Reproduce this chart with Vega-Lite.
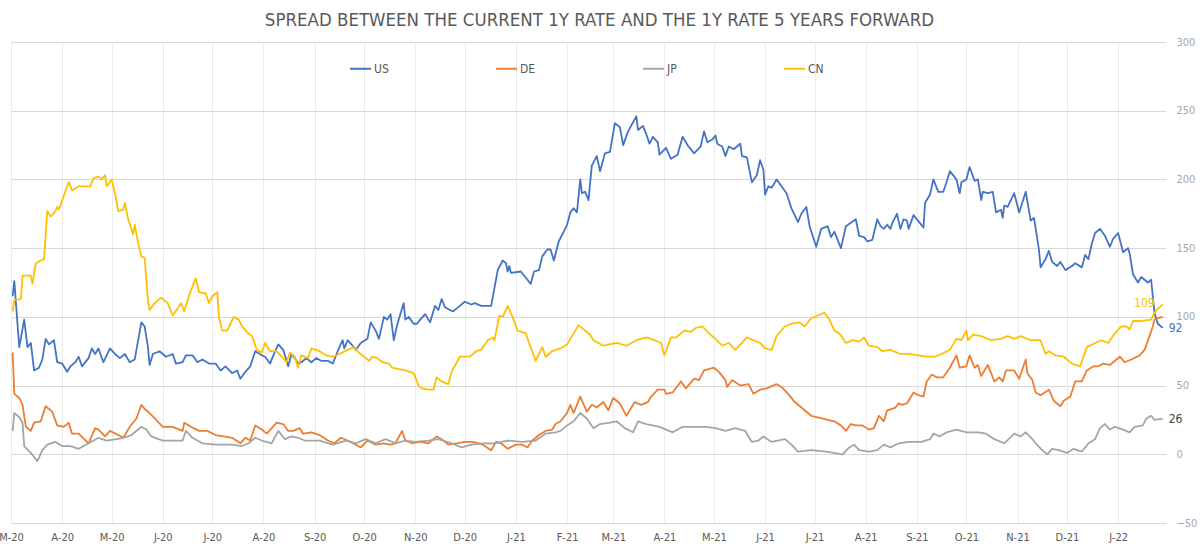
{
  "$schema": "https://vega.github.io/schema/vega-lite/v6.json",
  "width": 1155,
  "height": 481,
  "autosize": {"type": "none"},
  "padding": {"left": 11, "top": 42, "right": 34, "bottom": 26},
  "title": {
    "text": "SPREAD BETWEEN THE CURRENT 1Y RATE AND THE 1Y RATE 5 YEARS FORWARD",
    "fontSize": 18.5,
    "fontWeight": "normal",
    "color": "#595959",
    "anchor": "middle",
    "frame": "group",
    "offset": 7,
    "dx": 11
  },
  "data": {
    "values": [
      {"d":"2020-03-02","s":"US","v":115},{"d":"2020-03-03","s":"US","v":126},{"d":"2020-03-04","s":"US","v":110},{"d":"2020-03-06","s":"US","v":78},{"d":"2020-03-09","s":"US","v":98},{"d":"2020-03-11","s":"US","v":78},{"d":"2020-03-13","s":"US","v":81},{"d":"2020-03-15","s":"US","v":61},{"d":"2020-03-18","s":"US","v":63},{"d":"2020-03-20","s":"US","v":69},{"d":"2020-03-22","s":"US","v":84},{"d":"2020-03-24","s":"US","v":80},{"d":"2020-03-27","s":"US","v":83},{"d":"2020-03-29","s":"US","v":67},{"d":"2020-04-01","s":"US","v":66},{"d":"2020-04-04","s":"US","v":60},{"d":"2020-04-06","s":"US","v":64},{"d":"2020-04-09","s":"US","v":67},{"d":"2020-04-11","s":"US","v":71},{"d":"2020-04-13","s":"US","v":64},{"d":"2020-04-17","s":"US","v":70},{"d":"2020-04-19","s":"US","v":77},{"d":"2020-04-21","s":"US","v":73},{"d":"2020-04-23","s":"US","v":77},{"d":"2020-04-26","s":"US","v":67},{"d":"2020-04-30","s":"US","v":77},{"d":"2020-05-03","s":"US","v":73},{"d":"2020-05-06","s":"US","v":70},{"d":"2020-05-09","s":"US","v":73},{"d":"2020-05-12","s":"US","v":67},{"d":"2020-05-15","s":"US","v":69},{"d":"2020-05-19","s":"US","v":96},{"d":"2020-05-21","s":"US","v":93},{"d":"2020-05-23","s":"US","v":78},{"d":"2020-05-24","s":"US","v":65},{"d":"2020-05-26","s":"US","v":73},{"d":"2020-05-30","s":"US","v":75},{"d":"2020-06-03","s":"US","v":71},{"d":"2020-06-07","s":"US","v":73},{"d":"2020-06-09","s":"US","v":66},{"d":"2020-06-13","s":"US","v":67},{"d":"2020-06-15","s":"US","v":72},{"d":"2020-06-19","s":"US","v":72},{"d":"2020-06-22","s":"US","v":67},{"d":"2020-06-25","s":"US","v":69},{"d":"2020-06-29","s":"US","v":66},{"d":"2020-07-03","s":"US","v":66},{"d":"2020-07-06","s":"US","v":61},{"d":"2020-07-09","s":"US","v":64},{"d":"2020-07-13","s":"US","v":59},{"d":"2020-07-16","s":"US","v":61},{"d":"2020-07-18","s":"US","v":55},{"d":"2020-07-21","s":"US","v":60},{"d":"2020-07-24","s":"US","v":64},{"d":"2020-07-27","s":"US","v":75},{"d":"2020-07-31","s":"US","v":72},{"d":"2020-08-02","s":"US","v":71},{"d":"2020-08-05","s":"US","v":66},{"d":"2020-08-07","s":"US","v":72},{"d":"2020-08-10","s":"US","v":80},{"d":"2020-08-13","s":"US","v":76},{"d":"2020-08-16","s":"US","v":64},{"d":"2020-08-18","s":"US","v":73},{"d":"2020-08-20","s":"US","v":70},{"d":"2020-08-22","s":"US","v":66},{"d":"2020-08-24","s":"US","v":67},{"d":"2020-08-27","s":"US","v":70},{"d":"2020-08-30","s":"US","v":67},{"d":"2020-09-02","s":"US","v":70},{"d":"2020-09-05","s":"US","v":68},{"d":"2020-09-09","s":"US","v":68},{"d":"2020-09-12","s":"US","v":66},{"d":"2020-09-15","s":"US","v":75},{"d":"2020-09-18","s":"US","v":83},{"d":"2020-09-19","s":"US","v":77},{"d":"2020-09-21","s":"US","v":83},{"d":"2020-09-24","s":"US","v":79},{"d":"2020-09-26","s":"US","v":76},{"d":"2020-09-29","s":"US","v":81},{"d":"2020-10-03","s":"US","v":84},{"d":"2020-10-05","s":"US","v":96},{"d":"2020-10-08","s":"US","v":90},{"d":"2020-10-10","s":"US","v":84},{"d":"2020-10-13","s":"US","v":100},{"d":"2020-10-15","s":"US","v":98},{"d":"2020-10-17","s":"US","v":102},{"d":"2020-10-19","s":"US","v":83},{"d":"2020-10-21","s":"US","v":94},{"d":"2020-10-25","s":"US","v":110},{"d":"2020-10-26","s":"US","v":98},{"d":"2020-10-28","s":"US","v":100},{"d":"2020-10-31","s":"US","v":95},{"d":"2020-11-02","s":"US","v":95},{"d":"2020-11-04","s":"US","v":98},{"d":"2020-11-07","s":"US","v":102},{"d":"2020-11-10","s":"US","v":96},{"d":"2020-11-13","s":"US","v":108},{"d":"2020-11-15","s":"US","v":105},{"d":"2020-11-17","s":"US","v":113},{"d":"2020-11-19","s":"US","v":107},{"d":"2020-11-22","s":"US","v":105},{"d":"2020-11-24","s":"US","v":104},{"d":"2020-11-28","s":"US","v":108},{"d":"2020-12-01","s":"US","v":111},{"d":"2020-12-05","s":"US","v":109},{"d":"2020-12-07","s":"US","v":110},{"d":"2020-12-11","s":"US","v":108},{"d":"2020-12-17","s":"US","v":108},{"d":"2020-12-21","s":"US","v":134},{"d":"2020-12-24","s":"US","v":141},{"d":"2020-12-26","s":"US","v":139},{"d":"2020-12-27","s":"US","v":133},{"d":"2020-12-28","s":"US","v":137},{"d":"2020-12-29","s":"US","v":132},{"d":"2021-01-04","s":"US","v":133},{"d":"2021-01-08","s":"US","v":127},{"d":"2021-01-10","s":"US","v":124},{"d":"2021-01-12","s":"US","v":133},{"d":"2021-01-15","s":"US","v":134},{"d":"2021-01-17","s":"US","v":144},{"d":"2021-01-20","s":"US","v":149},{"d":"2021-01-22","s":"US","v":149},{"d":"2021-01-24","s":"US","v":141},{"d":"2021-01-27","s":"US","v":155},{"d":"2021-01-30","s":"US","v":162},{"d":"2021-02-01","s":"US","v":167},{"d":"2021-02-03","s":"US","v":176},{"d":"2021-02-05","s":"US","v":179},{"d":"2021-02-07","s":"US","v":176},{"d":"2021-02-09","s":"US","v":200},{"d":"2021-02-10","s":"US","v":190},{"d":"2021-02-12","s":"US","v":191},{"d":"2021-02-14","s":"US","v":185},{"d":"2021-02-16","s":"US","v":210},{"d":"2021-02-19","s":"US","v":217},{"d":"2021-02-21","s":"US","v":206},{"d":"2021-02-24","s":"US","v":219},{"d":"2021-02-27","s":"US","v":220},{"d":"2021-03-02","s":"US","v":241},{"d":"2021-03-05","s":"US","v":238},{"d":"2021-03-07","s":"US","v":225},{"d":"2021-03-10","s":"US","v":235},{"d":"2021-03-15","s":"US","v":246},{"d":"2021-03-16","s":"US","v":236},{"d":"2021-03-19","s":"US","v":239},{"d":"2021-03-21","s":"US","v":233},{"d":"2021-03-23","s":"US","v":226},{"d":"2021-03-25","s":"US","v":231},{"d":"2021-03-28","s":"US","v":227},{"d":"2021-03-29","s":"US","v":218},{"d":"2021-04-02","s":"US","v":223},{"d":"2021-04-05","s":"US","v":215},{"d":"2021-04-09","s":"US","v":218},{"d":"2021-04-12","s":"US","v":231},{"d":"2021-04-15","s":"US","v":225},{"d":"2021-04-19","s":"US","v":219},{"d":"2021-04-23","s":"US","v":224},{"d":"2021-04-25","s":"US","v":235},{"d":"2021-04-27","s":"US","v":227},{"d":"2021-04-30","s":"US","v":229},{"d":"2021-05-02","s":"US","v":232},{"d":"2021-05-03","s":"US","v":226},{"d":"2021-05-06","s":"US","v":224},{"d":"2021-05-08","s":"US","v":217},{"d":"2021-05-10","s":"US","v":224},{"d":"2021-05-13","s":"US","v":222},{"d":"2021-05-17","s":"US","v":226},{"d":"2021-05-18","s":"US","v":217},{"d":"2021-05-21","s":"US","v":216},{"d":"2021-05-24","s":"US","v":198},{"d":"2021-05-27","s":"US","v":203},{"d":"2021-05-29","s":"US","v":214},{"d":"2021-05-31","s":"US","v":207},{"d":"2021-06-01","s":"US","v":189},{"d":"2021-06-03","s":"US","v":195},{"d":"2021-06-05","s":"US","v":194},{"d":"2021-06-08","s":"US","v":200},{"d":"2021-06-11","s":"US","v":195},{"d":"2021-06-14","s":"US","v":190},{"d":"2021-06-17","s":"US","v":179},{"d":"2021-06-21","s":"US","v":169},{"d":"2021-06-23","s":"US","v":175},{"d":"2021-06-26","s":"US","v":180},{"d":"2021-06-28","s":"US","v":166},{"d":"2021-07-02","s":"US","v":151},{"d":"2021-07-05","s":"US","v":164},{"d":"2021-07-09","s":"US","v":166},{"d":"2021-07-11","s":"US","v":158},{"d":"2021-07-13","s":"US","v":162},{"d":"2021-07-17","s":"US","v":150},{"d":"2021-07-20","s":"US","v":166},{"d":"2021-07-26","s":"US","v":171},{"d":"2021-07-28","s":"US","v":159},{"d":"2021-07-31","s":"US","v":158},{"d":"2021-08-02","s":"US","v":155},{"d":"2021-08-05","s":"US","v":156},{"d":"2021-08-08","s":"US","v":171},{"d":"2021-08-10","s":"US","v":166},{"d":"2021-08-12","s":"US","v":164},{"d":"2021-08-14","s":"US","v":167},{"d":"2021-08-16","s":"US","v":164},{"d":"2021-08-17","s":"US","v":168},{"d":"2021-08-20","s":"US","v":175},{"d":"2021-08-22","s":"US","v":164},{"d":"2021-08-24","s":"US","v":171},{"d":"2021-08-26","s":"US","v":170},{"d":"2021-08-27","s":"US","v":164},{"d":"2021-08-30","s":"US","v":174},{"d":"2021-09-03","s":"US","v":168},{"d":"2021-09-05","s":"US","v":165},{"d":"2021-09-06","s":"US","v":183},{"d":"2021-09-09","s":"US","v":189},{"d":"2021-09-11","s":"US","v":200},{"d":"2021-09-14","s":"US","v":191},{"d":"2021-09-17","s":"US","v":191},{"d":"2021-09-19","s":"US","v":198},{"d":"2021-09-21","s":"US","v":206},{"d":"2021-09-25","s":"US","v":200},{"d":"2021-09-27","s":"US","v":190},{"d":"2021-09-28","s":"US","v":198},{"d":"2021-10-01","s":"US","v":200},{"d":"2021-10-03","s":"US","v":209},{"d":"2021-10-06","s":"US","v":199},{"d":"2021-10-08","s":"US","v":200},{"d":"2021-10-10","s":"US","v":185},{"d":"2021-10-11","s":"US","v":191},{"d":"2021-10-14","s":"US","v":190},{"d":"2021-10-17","s":"US","v":191},{"d":"2021-10-19","s":"US","v":176},{"d":"2021-10-22","s":"US","v":178},{"d":"2021-10-23","s":"US","v":172},{"d":"2021-10-24","s":"US","v":181},{"d":"2021-10-26","s":"US","v":180},{"d":"2021-10-30","s":"US","v":190},{"d":"2021-11-02","s":"US","v":176},{"d":"2021-11-06","s":"US","v":191},{"d":"2021-11-09","s":"US","v":170},{"d":"2021-11-11","s":"US","v":172},{"d":"2021-11-14","s":"US","v":149},{"d":"2021-11-15","s":"US","v":136},{"d":"2021-11-18","s":"US","v":142},{"d":"2021-11-20","s":"US","v":148},{"d":"2021-11-22","s":"US","v":140},{"d":"2021-11-25","s":"US","v":137},{"d":"2021-11-27","s":"US","v":140},{"d":"2021-11-30","s":"US","v":134},{"d":"2021-12-04","s":"US","v":137},{"d":"2021-12-06","s":"US","v":139},{"d":"2021-12-10","s":"US","v":136},{"d":"2021-12-12","s":"US","v":145},{"d":"2021-12-14","s":"US","v":142},{"d":"2021-12-16","s":"US","v":153},{"d":"2021-12-18","s":"US","v":161},{"d":"2021-12-21","s":"US","v":164},{"d":"2021-12-24","s":"US","v":159},{"d":"2021-12-27","s":"US","v":151},{"d":"2021-12-29","s":"US","v":157},{"d":"2022-01-01","s":"US","v":161},{"d":"2022-01-04","s":"US","v":147},{"d":"2022-01-07","s":"US","v":150},{"d":"2022-01-08","s":"US","v":146},{"d":"2022-01-10","s":"US","v":131},{"d":"2022-01-13","s":"US","v":125},{"d":"2022-01-15","s":"US","v":129},{"d":"2022-01-17","s":"US","v":127},{"d":"2022-01-19","s":"US","v":125},{"d":"2022-01-21","s":"US","v":127},{"d":"2022-01-23","s":"US","v":103},{"d":"2022-01-25","s":"US","v":95},{"d":"2022-01-28","s":"US","v":92},

      {"d":"2020-03-02","s":"DE","v":74},{"d":"2020-03-03","s":"DE","v":44},{"d":"2020-03-06","s":"DE","v":41},{"d":"2020-03-08","s":"DE","v":36},{"d":"2020-03-10","s":"DE","v":20},{"d":"2020-03-13","s":"DE","v":17},{"d":"2020-03-15","s":"DE","v":23},{"d":"2020-03-19","s":"DE","v":24},{"d":"2020-03-22","s":"DE","v":35},{"d":"2020-03-26","s":"DE","v":31},{"d":"2020-03-29","s":"DE","v":21},{"d":"2020-04-02","s":"DE","v":20},{"d":"2020-04-05","s":"DE","v":23},{"d":"2020-04-07","s":"DE","v":15},{"d":"2020-04-11","s":"DE","v":15},{"d":"2020-04-17","s":"DE","v":8},{"d":"2020-04-21","s":"DE","v":19},{"d":"2020-04-23","s":"DE","v":18},{"d":"2020-04-27","s":"DE","v":13},{"d":"2020-04-30","s":"DE","v":17},{"d":"2020-05-05","s":"DE","v":14},{"d":"2020-05-08","s":"DE","v":12},{"d":"2020-05-12","s":"DE","v":20},{"d":"2020-05-16","s":"DE","v":26},{"d":"2020-05-19","s":"DE","v":36},{"d":"2020-05-21","s":"DE","v":33},{"d":"2020-05-24","s":"DE","v":30},{"d":"2020-05-28","s":"DE","v":25},{"d":"2020-06-01","s":"DE","v":20},{"d":"2020-06-07","s":"DE","v":20},{"d":"2020-06-13","s":"DE","v":17},{"d":"2020-06-14","s":"DE","v":23},{"d":"2020-06-18","s":"DE","v":20},{"d":"2020-06-23","s":"DE","v":17},{"d":"2020-06-28","s":"DE","v":17},{"d":"2020-07-03","s":"DE","v":14},{"d":"2020-07-08","s":"DE","v":13},{"d":"2020-07-13","s":"DE","v":12},{"d":"2020-07-18","s":"DE","v":8},{"d":"2020-07-21","s":"DE","v":12},{"d":"2020-07-24","s":"DE","v":10},{"d":"2020-07-27","s":"DE","v":21},{"d":"2020-07-31","s":"DE","v":18},{"d":"2020-08-03","s":"DE","v":15},{"d":"2020-08-09","s":"DE","v":23},{"d":"2020-08-13","s":"DE","v":22},{"d":"2020-08-16","s":"DE","v":17},{"d":"2020-08-19","s":"DE","v":17},{"d":"2020-08-23","s":"DE","v":19},{"d":"2020-08-25","s":"DE","v":15},{"d":"2020-08-30","s":"DE","v":16},{"d":"2020-09-04","s":"DE","v":14},{"d":"2020-09-09","s":"DE","v":10},{"d":"2020-09-13","s":"DE","v":8},{"d":"2020-09-17","s":"DE","v":12},{"d":"2020-09-21","s":"DE","v":10},{"d":"2020-09-26","s":"DE","v":7},{"d":"2020-09-29","s":"DE","v":5},{"d":"2020-10-03","s":"DE","v":10},{"d":"2020-10-08","s":"DE","v":7},{"d":"2020-10-13","s":"DE","v":8},{"d":"2020-10-17","s":"DE","v":7},{"d":"2020-10-20","s":"DE","v":8},{"d":"2020-10-24","s":"DE","v":17},{"d":"2020-10-26","s":"DE","v":10},{"d":"2020-10-30","s":"DE","v":8},{"d":"2020-11-04","s":"DE","v":9},{"d":"2020-11-09","s":"DE","v":8},{"d":"2020-11-14","s":"DE","v":13},{"d":"2020-11-17","s":"DE","v":11},{"d":"2020-11-21","s":"DE","v":7},{"d":"2020-11-26","s":"DE","v":8},{"d":"2020-12-01","s":"DE","v":9},{"d":"2020-12-06","s":"DE","v":9},{"d":"2020-12-12","s":"DE","v":7},{"d":"2020-12-17","s":"DE","v":3},{"d":"2020-12-20","s":"DE","v":9},{"d":"2020-12-23","s":"DE","v":8},{"d":"2020-12-27","s":"DE","v":4},{"d":"2021-01-01","s":"DE","v":7},{"d":"2021-01-05","s":"DE","v":7},{"d":"2021-01-08","s":"DE","v":5},{"d":"2021-01-11","s":"DE","v":10},{"d":"2021-01-15","s":"DE","v":14},{"d":"2021-01-19","s":"DE","v":17},{"d":"2021-01-23","s":"DE","v":18},{"d":"2021-01-25","s":"DE","v":22},{"d":"2021-01-28","s":"DE","v":24},{"d":"2021-02-01","s":"DE","v":30},{"d":"2021-02-03","s":"DE","v":36},{"d":"2021-02-05","s":"DE","v":30},{"d":"2021-02-09","s":"DE","v":42},{"d":"2021-02-13","s":"DE","v":31},{"d":"2021-02-16","s":"DE","v":36},{"d":"2021-02-19","s":"DE","v":34},{"d":"2021-02-23","s":"DE","v":38},{"d":"2021-02-26","s":"DE","v":32},{"d":"2021-03-01","s":"DE","v":41},{"d":"2021-03-05","s":"DE","v":37},{"d":"2021-03-09","s":"DE","v":28},{"d":"2021-03-14","s":"DE","v":38},{"d":"2021-03-18","s":"DE","v":36},{"d":"2021-03-22","s":"DE","v":38},{"d":"2021-03-24","s":"DE","v":42},{"d":"2021-03-28","s":"DE","v":47},{"d":"2021-04-01","s":"DE","v":47},{"d":"2021-04-02","s":"DE","v":44},{"d":"2021-04-06","s":"DE","v":45},{"d":"2021-04-11","s":"DE","v":53},{"d":"2021-04-14","s":"DE","v":48},{"d":"2021-04-19","s":"DE","v":55},{"d":"2021-04-22","s":"DE","v":54},{"d":"2021-04-25","s":"DE","v":61},{"d":"2021-05-01","s":"DE","v":63},{"d":"2021-05-04","s":"DE","v":60},{"d":"2021-05-08","s":"DE","v":54},{"d":"2021-05-09","s":"DE","v":49},{"d":"2021-05-12","s":"DE","v":54},{"d":"2021-05-17","s":"DE","v":50},{"d":"2021-05-22","s":"DE","v":51},{"d":"2021-05-25","s":"DE","v":44},{"d":"2021-05-29","s":"DE","v":47},{"d":"2021-06-02","s":"DE","v":48},{"d":"2021-06-08","s":"DE","v":51},{"d":"2021-06-11","s":"DE","v":49},{"d":"2021-06-15","s":"DE","v":44},{"d":"2021-06-19","s":"DE","v":38},{"d":"2021-06-23","s":"DE","v":34},{"d":"2021-06-29","s":"DE","v":28},{"d":"2021-07-06","s":"DE","v":26},{"d":"2021-07-09","s":"DE","v":25},{"d":"2021-07-13","s":"DE","v":24},{"d":"2021-07-17","s":"DE","v":21},{"d":"2021-07-20","s":"DE","v":17},{"d":"2021-07-23","s":"DE","v":22},{"d":"2021-07-26","s":"DE","v":21},{"d":"2021-07-30","s":"DE","v":21},{"d":"2021-08-03","s":"DE","v":18},{"d":"2021-08-06","s":"DE","v":19},{"d":"2021-08-09","s":"DE","v":28},{"d":"2021-08-12","s":"DE","v":24},{"d":"2021-08-14","s":"DE","v":32},{"d":"2021-08-17","s":"DE","v":33},{"d":"2021-08-19","s":"DE","v":34},{"d":"2021-08-21","s":"DE","v":37},{"d":"2021-08-23","s":"DE","v":36},{"d":"2021-08-26","s":"DE","v":37},{"d":"2021-08-30","s":"DE","v":45},{"d":"2021-09-02","s":"DE","v":43},{"d":"2021-09-05","s":"DE","v":42},{"d":"2021-09-07","s":"DE","v":53},{"d":"2021-09-10","s":"DE","v":58},{"d":"2021-09-13","s":"DE","v":56},{"d":"2021-09-17","s":"DE","v":56},{"d":"2021-09-21","s":"DE","v":63},{"d":"2021-09-25","s":"DE","v":72},{"d":"2021-09-27","s":"DE","v":63},{"d":"2021-10-01","s":"DE","v":64},{"d":"2021-10-03","s":"DE","v":72},{"d":"2021-10-06","s":"DE","v":63},{"d":"2021-10-08","s":"DE","v":65},{"d":"2021-10-10","s":"DE","v":57},{"d":"2021-10-14","s":"DE","v":65},{"d":"2021-10-18","s":"DE","v":53},{"d":"2021-10-21","s":"DE","v":56},{"d":"2021-10-23","s":"DE","v":53},{"d":"2021-10-25","s":"DE","v":61},{"d":"2021-10-30","s":"DE","v":61},{"d":"2021-11-02","s":"DE","v":55},{"d":"2021-11-06","s":"DE","v":69},{"d":"2021-11-07","s":"DE","v":59},{"d":"2021-11-10","s":"DE","v":54},{"d":"2021-11-12","s":"DE","v":45},{"d":"2021-11-15","s":"DE","v":43},{"d":"2021-11-20","s":"DE","v":47},{"d":"2021-11-23","s":"DE","v":39},{"d":"2021-11-27","s":"DE","v":35},{"d":"2021-11-29","s":"DE","v":39},{"d":"2021-12-03","s":"DE","v":42},{"d":"2021-12-06","s":"DE","v":53},{"d":"2021-12-10","s":"DE","v":53},{"d":"2021-12-13","s":"DE","v":61},{"d":"2021-12-17","s":"DE","v":64},{"d":"2021-12-20","s":"DE","v":64},{"d":"2021-12-23","s":"DE","v":66},{"d":"2021-12-27","s":"DE","v":65},{"d":"2022-01-02","s":"DE","v":71},{"d":"2022-01-05","s":"DE","v":67},{"d":"2022-01-09","s":"DE","v":69},{"d":"2022-01-14","s":"DE","v":72},{"d":"2022-01-17","s":"DE","v":76},{"d":"2022-01-20","s":"DE","v":86},{"d":"2022-01-22","s":"DE","v":93},{"d":"2022-01-23","s":"DE","v":98},{"d":"2022-01-25","s":"DE","v":99},{"d":"2022-01-28","s":"DE","v":100},

      {"d":"2020-03-02","s":"JP","v":17},{"d":"2020-03-03","s":"JP","v":30},{"d":"2020-03-06","s":"JP","v":27},{"d":"2020-03-08","s":"JP","v":23},{"d":"2020-03-09","s":"JP","v":6},{"d":"2020-03-13","s":"JP","v":1},{"d":"2020-03-17","s":"JP","v":-5},{"d":"2020-03-20","s":"JP","v":3},{"d":"2020-03-23","s":"JP","v":7},{"d":"2020-03-28","s":"JP","v":9},{"d":"2020-04-01","s":"JP","v":6},{"d":"2020-04-06","s":"JP","v":6},{"d":"2020-04-11","s":"JP","v":4},{"d":"2020-04-17","s":"JP","v":8},{"d":"2020-04-23","s":"JP","v":12},{"d":"2020-04-28","s":"JP","v":10},{"d":"2020-05-04","s":"JP","v":11},{"d":"2020-05-08","s":"JP","v":12},{"d":"2020-05-13","s":"JP","v":14},{"d":"2020-05-19","s":"JP","v":20},{"d":"2020-05-22","s":"JP","v":18},{"d":"2020-05-25","s":"JP","v":13},{"d":"2020-06-01","s":"JP","v":10},{"d":"2020-06-07","s":"JP","v":10},{"d":"2020-06-13","s":"JP","v":10},{"d":"2020-06-15","s":"JP","v":17},{"d":"2020-06-19","s":"JP","v":12},{"d":"2020-06-25","s":"JP","v":8},{"d":"2020-07-03","s":"JP","v":7},{"d":"2020-07-13","s":"JP","v":7},{"d":"2020-07-19","s":"JP","v":6},{"d":"2020-07-23","s":"JP","v":8},{"d":"2020-07-27","s":"JP","v":12},{"d":"2020-07-31","s":"JP","v":10},{"d":"2020-08-06","s":"JP","v":8},{"d":"2020-08-10","s":"JP","v":17},{"d":"2020-08-14","s":"JP","v":11},{"d":"2020-08-18","s":"JP","v":13},{"d":"2020-08-22","s":"JP","v":12},{"d":"2020-08-26","s":"JP","v":10},{"d":"2020-09-04","s":"JP","v":10},{"d":"2020-09-12","s":"JP","v":7},{"d":"2020-09-20","s":"JP","v":10},{"d":"2020-09-26","s":"JP","v":8},{"d":"2020-10-02","s":"JP","v":11},{"d":"2020-10-08","s":"JP","v":8},{"d":"2020-10-14","s":"JP","v":11},{"d":"2020-10-20","s":"JP","v":8},{"d":"2020-10-26","s":"JP","v":10},{"d":"2020-11-01","s":"JP","v":9},{"d":"2020-11-09","s":"JP","v":10},{"d":"2020-11-15","s":"JP","v":11},{"d":"2020-11-23","s":"JP","v":8},{"d":"2020-11-29","s":"JP","v":5},{"d":"2020-12-05","s":"JP","v":7},{"d":"2020-12-12","s":"JP","v":8},{"d":"2020-12-19","s":"JP","v":8},{"d":"2020-12-27","s":"JP","v":10},{"d":"2021-01-05","s":"JP","v":9},{"d":"2021-01-13","s":"JP","v":10},{"d":"2021-01-19","s":"JP","v":15},{"d":"2021-01-25","s":"JP","v":16},{"d":"2021-01-28","s":"JP","v":17},{"d":"2021-02-01","s":"JP","v":21},{"d":"2021-02-05","s":"JP","v":24},{"d":"2021-02-09","s":"JP","v":30},{"d":"2021-02-13","s":"JP","v":26},{"d":"2021-02-17","s":"JP","v":19},{"d":"2021-02-21","s":"JP","v":22},{"d":"2021-02-27","s":"JP","v":23},{"d":"2021-03-03","s":"JP","v":24},{"d":"2021-03-08","s":"JP","v":19},{"d":"2021-03-13","s":"JP","v":16},{"d":"2021-03-16","s":"JP","v":24},{"d":"2021-03-21","s":"JP","v":22},{"d":"2021-03-29","s":"JP","v":20},{"d":"2021-04-06","s":"JP","v":16},{"d":"2021-04-12","s":"JP","v":20},{"d":"2021-04-20","s":"JP","v":20},{"d":"2021-04-26","s":"JP","v":20},{"d":"2021-05-02","s":"JP","v":19},{"d":"2021-05-08","s":"JP","v":17},{"d":"2021-05-14","s":"JP","v":19},{"d":"2021-05-20","s":"JP","v":17},{"d":"2021-05-24","s":"JP","v":9},{"d":"2021-05-28","s":"JP","v":10},{"d":"2021-05-31","s":"JP","v":13},{"d":"2021-06-05","s":"JP","v":9},{"d":"2021-06-13","s":"JP","v":11},{"d":"2021-06-17","s":"JP","v":7},{"d":"2021-06-21","s":"JP","v":2},{"d":"2021-06-29","s":"JP","v":3},{"d":"2021-07-08","s":"JP","v":2},{"d":"2021-07-18","s":"JP","v":0},{"d":"2021-07-22","s":"JP","v":5},{"d":"2021-07-25","s":"JP","v":7},{"d":"2021-07-28","s":"JP","v":3},{"d":"2021-08-03","s":"JP","v":2},{"d":"2021-08-08","s":"JP","v":3},{"d":"2021-08-12","s":"JP","v":7},{"d":"2021-08-16","s":"JP","v":5},{"d":"2021-08-21","s":"JP","v":8},{"d":"2021-08-27","s":"JP","v":9},{"d":"2021-09-04","s":"JP","v":9},{"d":"2021-09-09","s":"JP","v":11},{"d":"2021-09-11","s":"JP","v":15},{"d":"2021-09-15","s":"JP","v":13},{"d":"2021-09-19","s":"JP","v":16},{"d":"2021-09-25","s":"JP","v":18},{"d":"2021-10-01","s":"JP","v":16},{"d":"2021-10-08","s":"JP","v":16},{"d":"2021-10-13","s":"JP","v":15},{"d":"2021-10-18","s":"JP","v":11},{"d":"2021-10-24","s":"JP","v":8},{"d":"2021-10-30","s":"JP","v":15},{"d":"2021-11-03","s":"JP","v":13},{"d":"2021-11-06","s":"JP","v":16},{"d":"2021-11-10","s":"JP","v":11},{"d":"2021-11-12","s":"JP","v":8},{"d":"2021-11-16","s":"JP","v":3},{"d":"2021-11-19","s":"JP","v":0},{"d":"2021-11-22","s":"JP","v":4},{"d":"2021-11-26","s":"JP","v":3},{"d":"2021-12-01","s":"JP","v":1},{"d":"2021-12-05","s":"JP","v":4},{"d":"2021-12-10","s":"JP","v":2},{"d":"2021-12-14","s":"JP","v":8},{"d":"2021-12-18","s":"JP","v":11},{"d":"2021-12-21","s":"JP","v":19},{"d":"2021-12-24","s":"JP","v":22},{"d":"2021-12-27","s":"JP","v":18},{"d":"2021-12-30","s":"JP","v":20},{"d":"2022-01-04","s":"JP","v":18},{"d":"2022-01-08","s":"JP","v":16},{"d":"2022-01-11","s":"JP","v":20},{"d":"2022-01-16","s":"JP","v":21},{"d":"2022-01-18","s":"JP","v":26},{"d":"2022-01-21","s":"JP","v":28},{"d":"2022-01-23","s":"JP","v":25},{"d":"2022-01-28","s":"JP","v":26},

      {"d":"2020-03-02","s":"CN","v":104},{"d":"2020-03-03","s":"CN","v":112},{"d":"2020-03-07","s":"CN","v":113},{"d":"2020-03-08","s":"CN","v":130},{"d":"2020-03-13","s":"CN","v":130},{"d":"2020-03-14","s":"CN","v":124},{"d":"2020-03-16","s":"CN","v":139},{"d":"2020-03-19","s":"CN","v":141},{"d":"2020-03-21","s":"CN","v":142},{"d":"2020-03-23","s":"CN","v":177},{"d":"2020-03-25","s":"CN","v":173},{"d":"2020-03-28","s":"CN","v":177},{"d":"2020-03-29","s":"CN","v":180},{"d":"2020-03-30","s":"CN","v":178},{"d":"2020-04-02","s":"CN","v":188},{"d":"2020-04-05","s":"CN","v":198},{"d":"2020-04-07","s":"CN","v":192},{"d":"2020-04-11","s":"CN","v":195},{"d":"2020-04-18","s":"CN","v":195},{"d":"2020-04-20","s":"CN","v":201},{"d":"2020-04-23","s":"CN","v":202},{"d":"2020-04-25","s":"CN","v":200},{"d":"2020-04-27","s":"CN","v":203},{"d":"2020-04-28","s":"CN","v":195},{"d":"2020-05-01","s":"CN","v":200},{"d":"2020-05-03","s":"CN","v":190},{"d":"2020-05-05","s":"CN","v":177},{"d":"2020-05-08","s":"CN","v":178},{"d":"2020-05-09","s":"CN","v":183},{"d":"2020-05-11","s":"CN","v":171},{"d":"2020-05-14","s":"CN","v":160},{"d":"2020-05-15","s":"CN","v":167},{"d":"2020-05-17","s":"CN","v":154},{"d":"2020-05-19","s":"CN","v":144},{"d":"2020-05-21","s":"CN","v":143},{"d":"2020-05-23","s":"CN","v":112},{"d":"2020-05-24","s":"CN","v":105},{"d":"2020-05-27","s":"CN","v":110},{"d":"2020-05-31","s":"CN","v":114},{"d":"2020-06-04","s":"CN","v":110},{"d":"2020-06-07","s":"CN","v":101},{"d":"2020-06-10","s":"CN","v":106},{"d":"2020-06-12","s":"CN","v":110},{"d":"2020-06-14","s":"CN","v":104},{"d":"2020-06-17","s":"CN","v":116},{"d":"2020-06-21","s":"CN","v":128},{"d":"2020-06-23","s":"CN","v":118},{"d":"2020-06-27","s":"CN","v":117},{"d":"2020-06-29","s":"CN","v":110},{"d":"2020-07-01","s":"CN","v":115},{"d":"2020-07-04","s":"CN","v":118},{"d":"2020-07-05","s":"CN","v":100},{"d":"2020-07-07","s":"CN","v":90},{"d":"2020-07-10","s":"CN","v":90},{"d":"2020-07-14","s":"CN","v":100},{"d":"2020-07-17","s":"CN","v":98},{"d":"2020-07-19","s":"CN","v":93},{"d":"2020-07-22","s":"CN","v":89},{"d":"2020-07-25","s":"CN","v":86},{"d":"2020-07-28","s":"CN","v":76},{"d":"2020-07-31","s":"CN","v":74},{"d":"2020-08-02","s":"CN","v":81},{"d":"2020-08-05","s":"CN","v":75},{"d":"2020-08-09","s":"CN","v":75},{"d":"2020-08-12","s":"CN","v":71},{"d":"2020-08-15","s":"CN","v":67},{"d":"2020-08-17","s":"CN","v":74},{"d":"2020-08-20","s":"CN","v":71},{"d":"2020-08-22","s":"CN","v":63},{"d":"2020-08-24","s":"CN","v":72},{"d":"2020-08-28","s":"CN","v":70},{"d":"2020-08-30","s":"CN","v":77},{"d":"2020-09-04","s":"CN","v":75},{"d":"2020-09-08","s":"CN","v":72},{"d":"2020-09-12","s":"CN","v":71},{"d":"2020-09-16","s":"CN","v":73},{"d":"2020-09-21","s":"CN","v":76},{"d":"2020-09-25","s":"CN","v":78},{"d":"2020-09-27","s":"CN","v":75},{"d":"2020-09-30","s":"CN","v":72},{"d":"2020-10-04","s":"CN","v":68},{"d":"2020-10-06","s":"CN","v":71},{"d":"2020-10-09","s":"CN","v":70},{"d":"2020-10-12","s":"CN","v":67},{"d":"2020-10-16","s":"CN","v":66},{"d":"2020-10-18","s":"CN","v":63},{"d":"2020-10-22","s":"CN","v":62},{"d":"2020-10-26","s":"CN","v":61},{"d":"2020-10-31","s":"CN","v":59},{"d":"2020-11-03","s":"CN","v":50},{"d":"2020-11-05","s":"CN","v":48},{"d":"2020-11-09","s":"CN","v":47},{"d":"2020-11-12","s":"CN","v":47},{"d":"2020-11-14","s":"CN","v":56},{"d":"2020-11-17","s":"CN","v":53},{"d":"2020-11-21","s":"CN","v":51},{"d":"2020-11-23","s":"CN","v":60},{"d":"2020-11-28","s":"CN","v":71},{"d":"2020-12-04","s":"CN","v":71},{"d":"2020-12-08","s":"CN","v":75},{"d":"2020-12-11","s":"CN","v":76},{"d":"2020-12-15","s":"CN","v":83},{"d":"2020-12-18","s":"CN","v":85},{"d":"2020-12-19","s":"CN","v":83},{"d":"2020-12-22","s":"CN","v":101},{"d":"2020-12-24","s":"CN","v":100},{"d":"2020-12-27","s":"CN","v":108},{"d":"2020-12-30","s":"CN","v":100},{"d":"2021-01-02","s":"CN","v":90},{"d":"2021-01-07","s":"CN","v":88},{"d":"2021-01-09","s":"CN","v":81},{"d":"2021-01-13","s":"CN","v":68},{"d":"2021-01-17","s":"CN","v":78},{"d":"2021-01-19","s":"CN","v":71},{"d":"2021-01-23","s":"CN","v":75},{"d":"2021-01-28","s":"CN","v":77},{"d":"2021-02-01","s":"CN","v":80},{"d":"2021-02-08","s":"CN","v":94},{"d":"2021-02-12","s":"CN","v":90},{"d":"2021-02-15","s":"CN","v":87},{"d":"2021-02-17","s":"CN","v":83},{"d":"2021-02-23","s":"CN","v":79},{"d":"2021-03-03","s":"CN","v":81},{"d":"2021-03-09","s":"CN","v":79},{"d":"2021-03-15","s":"CN","v":83},{"d":"2021-03-21","s":"CN","v":85},{"d":"2021-03-26","s":"CN","v":83},{"d":"2021-03-30","s":"CN","v":81},{"d":"2021-04-01","s":"CN","v":72},{"d":"2021-04-05","s":"CN","v":85},{"d":"2021-04-08","s":"CN","v":85},{"d":"2021-04-13","s":"CN","v":90},{"d":"2021-04-17","s":"CN","v":89},{"d":"2021-04-20","s":"CN","v":92},{"d":"2021-04-24","s":"CN","v":93},{"d":"2021-04-28","s":"CN","v":88},{"d":"2021-05-01","s":"CN","v":85},{"d":"2021-05-06","s":"CN","v":79},{"d":"2021-05-10","s":"CN","v":81},{"d":"2021-05-14","s":"CN","v":76},{"d":"2021-05-21","s":"CN","v":85},{"d":"2021-05-25","s":"CN","v":83},{"d":"2021-05-29","s":"CN","v":81},{"d":"2021-06-01","s":"CN","v":77},{"d":"2021-06-05","s":"CN","v":76},{"d":"2021-06-08","s":"CN","v":86},{"d":"2021-06-13","s":"CN","v":93},{"d":"2021-06-17","s":"CN","v":95},{"d":"2021-06-22","s":"CN","v":96},{"d":"2021-06-25","s":"CN","v":93},{"d":"2021-06-29","s":"CN","v":99},{"d":"2021-07-07","s":"CN","v":103},{"d":"2021-07-10","s":"CN","v":98},{"d":"2021-07-13","s":"CN","v":90},{"d":"2021-07-16","s":"CN","v":88},{"d":"2021-07-20","s":"CN","v":81},{"d":"2021-07-24","s":"CN","v":83},{"d":"2021-07-28","s":"CN","v":82},{"d":"2021-07-31","s":"CN","v":85},{"d":"2021-08-03","s":"CN","v":79},{"d":"2021-08-08","s":"CN","v":78},{"d":"2021-08-11","s":"CN","v":75},{"d":"2021-08-16","s":"CN","v":76},{"d":"2021-08-22","s":"CN","v":73},{"d":"2021-08-27","s":"CN","v":73},{"d":"2021-09-02","s":"CN","v":72},{"d":"2021-09-07","s":"CN","v":71},{"d":"2021-09-12","s":"CN","v":71},{"d":"2021-09-16","s":"CN","v":73},{"d":"2021-09-21","s":"CN","v":76},{"d":"2021-09-25","s":"CN","v":84},{"d":"2021-09-28","s":"CN","v":83},{"d":"2021-10-01","s":"CN","v":90},{"d":"2021-10-02","s":"CN","v":83},{"d":"2021-10-05","s":"CN","v":87},{"d":"2021-10-10","s":"CN","v":86},{"d":"2021-10-16","s":"CN","v":83},{"d":"2021-10-22","s":"CN","v":84},{"d":"2021-10-26","s":"CN","v":86},{"d":"2021-10-30","s":"CN","v":84},{"d":"2021-11-03","s":"CN","v":86},{"d":"2021-11-09","s":"CN","v":83},{"d":"2021-11-15","s":"CN","v":83},{"d":"2021-11-18","s":"CN","v":73},{"d":"2021-11-20","s":"CN","v":75},{"d":"2021-11-24","s":"CN","v":72},{"d":"2021-11-29","s":"CN","v":71},{"d":"2021-12-04","s":"CN","v":66},{"d":"2021-12-09","s":"CN","v":64},{"d":"2021-12-13","s":"CN","v":78},{"d":"2021-12-18","s":"CN","v":81},{"d":"2021-12-22","s":"CN","v":83},{"d":"2021-12-26","s":"CN","v":81},{"d":"2021-12-30","s":"CN","v":88},{"d":"2022-01-03","s":"CN","v":93},{"d":"2022-01-06","s":"CN","v":93},{"d":"2022-01-08","s":"CN","v":91},{"d":"2022-01-10","s":"CN","v":97},{"d":"2022-01-15","s":"CN","v":97},{"d":"2022-01-21","s":"CN","v":98},{"d":"2022-01-23","s":"CN","v":103},{"d":"2022-01-25","s":"CN","v":106},{"d":"2022-01-28","s":"CN","v":109}
    ]
  },
  "encoding": {
    "x": {
      "field": "d",
      "type": "temporal",
      "scale": {
        "type": "utc",
        "domain": [
          {"year": 2020, "month": 3, "date": 1, "utc": true},
          {"year": 2022, "month": 1, "date": 30, "utc": true}
        ]
      },
      "axis": {
        "title": null,
        "domain": false,
        "ticks": false,
        "tickCount": {"interval": "month", "step": 1},
        "labelExpr": "upper(slice(utcFormat(datum.value, '%b'), 0, 1)) + '-' + utcFormat(datum.value, '%y')",
        "labelFlush": false,
        "labelOverlap": false,
        "labelPadding": 8,
        "labelColor": "#595959",
        "labelFontSize": 11,
        "gridColor": "#EBEBEB"
      }
    },
    "y": {
      "field": "v",
      "type": "quantitative",
      "scale": {"domain": [-50, 300], "nice": false},
      "axis": {
        "orient": "right",
        "title": null,
        "values": [-50, 0, 50, 100, 150, 200, 250, 300],
        "domain": false,
        "ticks": false,
        "labelPadding": 10,
        "labelColor": "#A6A6A6",
        "labelFontSize": 11,
        "gridColor": "#D9D9D9"
      }
    }
  },
  "layer": [
    {
      "mark": {"type": "line", "strokeWidth": 1.8, "strokeJoin": "round"},
      "encoding": {
        "color": {
          "field": "s",
          "type": "nominal",
          "scale": {
            "domain": ["US", "DE", "JP", "CN"],
            "range": ["#4472C4", "#ED7D31", "#A5A5A5", "#FFC000"]
          },
          "legend": {
            "orient": "none",
            "legendX": 338,
            "legendY": 15,
            "direction": "horizontal",
            "title": null,
            "symbolType": "stroke",
            "symbolStrokeWidth": 2,
            "symbolSize": 441,
            "labelFontSize": 12,
            "labelColor": "#595959",
            "labelOffset": 2,
            "columnPadding": 103
          }
        }
      }
    },
    {
      "transform": [{"filter": "datum.s == 'US' && time(datum.d) == time('2022-01-28')"}],
      "mark": {"type": "text", "align": "left", "dx": 6, "fontSize": 12, "color": "#4472C4"},
      "encoding": {"text": {"field": "v", "type": "quantitative"}}
    },
    {
      "transform": [{"filter": "datum.s == 'JP' && time(datum.d) == time('2022-01-28')"}],
      "mark": {"type": "text", "align": "left", "dx": 6, "fontSize": 12, "color": "#404040"},
      "encoding": {"text": {"field": "v", "type": "quantitative"}}
    },
    {
      "transform": [{"filter": "datum.s == 'CN' && time(datum.d) == time('2022-01-28')"}],
      "mark": {"type": "text", "align": "right", "dx": -8, "dy": -1, "fontSize": 12, "color": "#FFC000"},
      "encoding": {"text": {"field": "v", "type": "quantitative"}}
    }
  ],
  "config": {
    "font": "DejaVu Sans Condensed",
    "view": {"stroke": null}
  }
}
